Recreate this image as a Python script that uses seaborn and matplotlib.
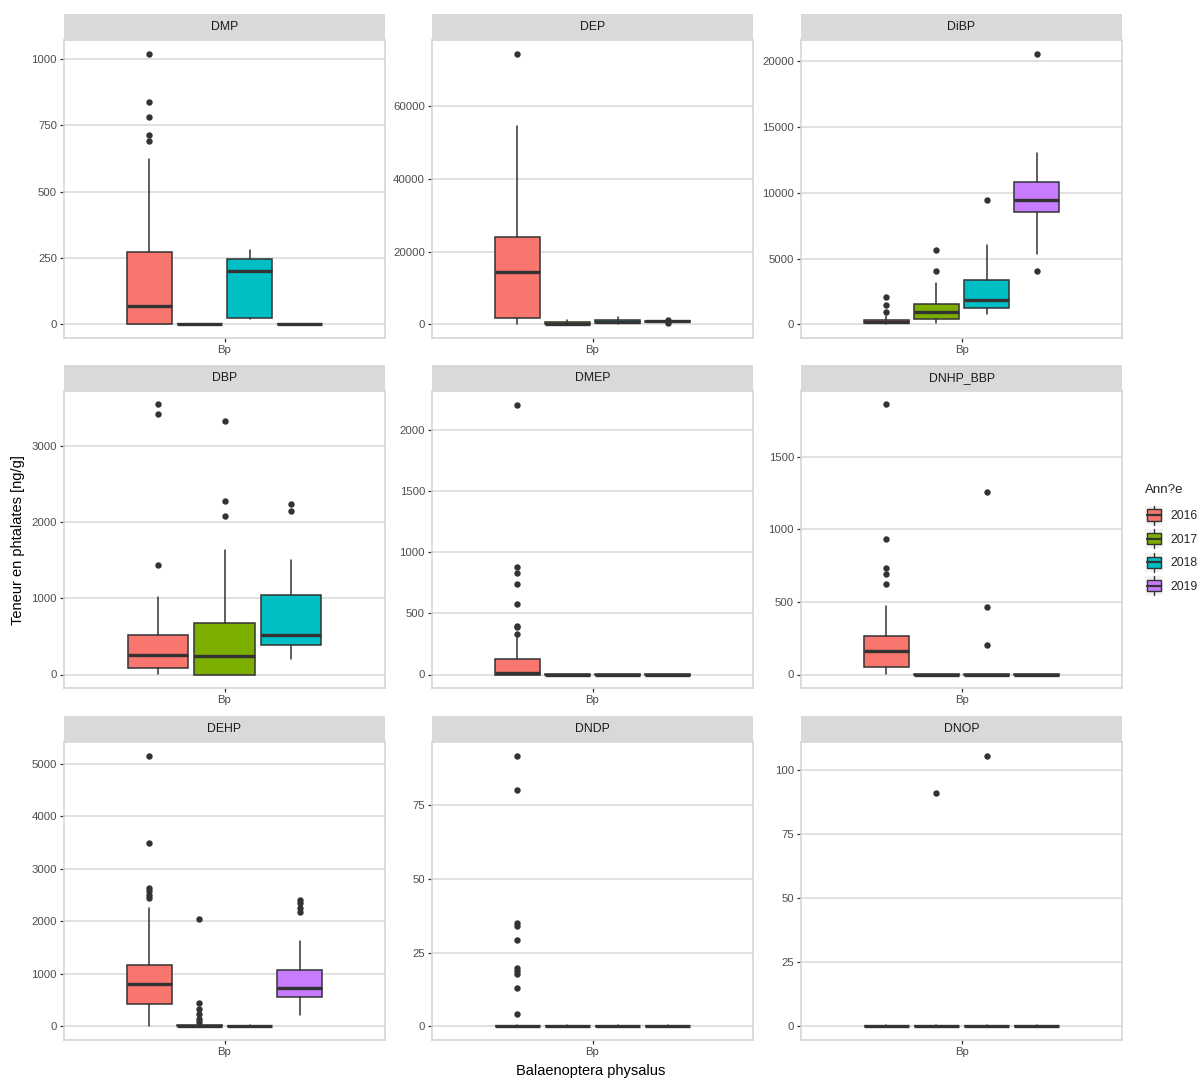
import numpy as np
import pandas as pd
import matplotlib
matplotlib.use("Agg")
import matplotlib.pyplot as plt
import seaborn as sns
from matplotlib.patches import Rectangle
from matplotlib.lines import Line2D
from matplotlib.legend_handler import HandlerBase

# ---------------- data ----------------
compounds = ["DMP", "DEP", "DiBP", "DBP", "DMEP", "DNHP_BBP", "DEHP", "DNDP", "DNOP"]
years = ["2016", "2017", "2018", "2019"]
year_colors = ["#F8766D", "#7CAE00", "#00BFC4", "#C77CFF"]
category = "Bp"

# one row per compound, one entry per year (None = no data that year)
q1 = [
    [0, 0, 25, 0],
    [1800, 50, 300, 700],
    [75, 380, 1210, 8540],
    [82, 0, 382, None],
    [0, 0, 0, 0],
    [55, 0, 0, 0],
    [435, 0, 0, 562],
    [0, 0, 0, 0],
    [0, 0, 0, 0],
]
median = [
    [68, 0, 200, 0],
    [14500, 250, 800, 850],
    [200, 960, 1890, 9400],
    [252, 239, 517, None],
    [14, 0, 0, 0],
    [160, 0, 0, 0],
    [801, 5, 0, 732],
    [0, 0, 0, 0],
    [0, 0, 0, 0],
]
q3 = [
    [273, 2, 247, 2],
    [24000, 600, 1300, 1000],
    [330, 1540, 3350, 10790],
    [521, 677, 1046, None],
    [130, 3, 3, 3],
    [267, 3, 3, 3],
    [1167, 25, 15, 1073],
    [0.3, 0.3, 0.3, 0.3],
    [0.3, 0.3, 0.3, 0.3],
]
whisker_lo = [
    [0, 0, 19, 0],
    [0, 0, 100, 600],
    [0, 75, 780, 5370],
    [9, 0, 208, None],
    [0, 0, 0, 0],
    [5, 0, 0, 0],
    [13, 0, 0, 221],
    [0, 0, 0, 0],
    [0, 0, 0, 0],
]
whisker_hi = [
    [622, 3, 280, 3],
    [54400, 1200, 2000, 1150],
    [630, 3180, 6000, 12980],
    [1020, 1637, 1498, None],
    [310, 5, 5, 5],
    [472, 4, 4, 4],
    [2253, 40, 20, 1622],
    [0.5, 0.5, 0.5, 0.5],
    [0.5, 0.5, 0.5, 0.5],
]
outliers_DMP = [[1019, 836, 781, 712, 690], [], [], []]
outliers_DEP = [[74400], [], [], [1350, 450]]
outliers_DiBP = [[2090, 1490, 960], [5670, 4030], [9400], [20540, 4030]]
outliers_DBP = [[3539, 3417, 1429], [3322, 2271, 2080], [2236, 2149], []]
outliers_DMEP = [[2205, 874, 825, 739, 574, 400, 384, 333], [], [], []]
outliers_DNHP_BBP = [[1858, 935, 730, 689, 622], [], [1259, 465, 205], []]
outliers_DEHP = [[5155, 3483, 2631, 2568, 2505, 2442], [2051, 448, 341, 233, 139, 76], [], [2404, 2341, 2253, 2170]]
outliers_DNDP = [[91.9, 80.3, 35.0, 34.0, 29.3, 19.7, 18.8, 17.7, 13.0, 4.3], [], [], []]
outliers_DNOP = [[], [90.8], [105.5], []]
outliers = [outliers_DMP, outliers_DEP, outliers_DiBP, outliers_DBP, outliers_DMEP,
            outliers_DNHP_BBP, outliers_DEHP, outliers_DNDP, outliers_DNOP]

y_ticks = [
    [0, 250, 500, 750, 1000],
    [0, 20000, 40000, 60000],
    [0, 5000, 10000, 15000, 20000],
    [0, 1000, 2000, 3000],
    [0, 500, 1000, 1500, 2000],
    [0, 500, 1000, 1500],
    [0, 1000, 2000, 3000, 4000, 5000],
    [0, 25, 50, 75],
    [0, 25, 50, 75, 100],
]

legend_title = "Ann?e"
y_title = "Teneur en phtalates [ng/g]"
x_title = "Balaenoptera physalus"

# ---------------- build table ----------------
rows = []
for ci, comp in enumerate(compounds):
    for yi, yr in enumerate(years):
        if q1[ci][yi] is None:
            continue
        rows.append(dict(compound=comp, year=yr, q1=q1[ci][yi], med=median[ci][yi],
                         q3=q3[ci][yi], lo=whisker_lo[ci][yi], hi=whisker_hi[ci][yi],
                         fliers=outliers[ci][yi]))
df = pd.DataFrame(rows)
color_map = dict(zip(years, year_colors))

# ---------------- style ----------------
sns.set_theme(style="white")
plt.rcParams["font.family"] = ["Liberation Sans", "DejaVu Sans"]

EDGE = "#333333"
GRID = "#DEDEDE"
BORDER = "#D6D6D6"
TICKC = "#4D4D4D"


def draw_boxes(data, **kw):
    ax = plt.gca()
    n = len(data)
    slot = 0.75 / n
    stats, positions, cols = [], [], []
    ymin, ymax = np.inf, -np.inf
    for i, (_, r) in enumerate(data.iterrows()):
        fl = np.array(r.fliers, dtype=float)
        stats.append(dict(q1=r.q1, med=r.med, q3=r.q3, whislo=r.lo, whishi=r.hi, fliers=fl))
        positions.append(-0.375 + slot * (i + 0.5))
        cols.append(color_map[r.year])
        vals = [r.lo, r.hi] + list(fl)
        ymin, ymax = min(ymin, min(vals)), max(ymax, max(vals))
    bp = ax.bxp(stats, positions=positions, widths=0.9 * slot, patch_artist=True,
                showcaps=False, manage_ticks=False,
                boxprops=dict(edgecolor=EDGE, linewidth=1.1),
                medianprops=dict(color=EDGE, linewidth=2.4, solid_capstyle="butt"),
                whiskerprops=dict(color=EDGE, linewidth=1.1),
                flierprops=dict(marker="o", markerfacecolor=EDGE, markeredgecolor=EDGE,
                                markersize=3.6, linestyle="none"))
    for patch, c in zip(bp["boxes"], cols):
        patch.set_facecolor(c)
    pad = 0.05 * (ymax - ymin)
    ax.set_ylim(ymin - pad, ymax + pad)


g = sns.FacetGrid(df, col="compound", col_order=compounds, col_wrap=3,
                  sharex=False, sharey=False, height=3, aspect=1)
g.map_dataframe(draw_boxes)

fig = g.figure
fig.set_size_inches(12.04, 10.8)
fig.set_dpi(100)
fig.patch.set_facecolor("white")

W, H = 1204.0, 1080.0
col_left = [64, 432, 801]
row_span = [(40, 338), (391, 688), (742, 1040)]
pw = 321
strip_h = 26

for ci, comp in enumerate(compounds):
    ax = g.axes_dict[comp]
    r, c = divmod(ci, 3)
    y1, y2 = row_span[r]
    ax.set_position([col_left[c] / W, 1 - y2 / H, pw / W, (y2 - y1) / H])
    ax.set_title("")
    ax.set_xlabel("")
    ax.set_ylabel("")
    ax.set_xlim(-0.6, 0.6)
    ax.set_xticks([0])
    ax.set_xticklabels([category])
    ax.set_yticks(y_ticks[ci])
    ax.set_yticklabels([str(t) for t in y_ticks[ci]])
    ax.set_facecolor("white")
    ax.set_axisbelow(True)
    ax.yaxis.grid(True, color=GRID, linewidth=1.3)
    ax.xaxis.grid(False)
    for s in ax.spines.values():
        s.set_visible(True)
        s.set_color(BORDER)
        s.set_linewidth(1.2)
    ax.tick_params(axis="both", which="major", length=3, width=0.9, color="#333333",
                   labelsize=8.2, labelcolor=TICKC, pad=2, left=True, bottom=True)
    hh = strip_h / (y2 - y1)
    ax.add_patch(Rectangle((0, 1), 1, hh, transform=ax.transAxes, clip_on=False,
                           facecolor="#D9D9D9", edgecolor="none", zorder=5))
    ax.text(0.5, 1 + hh / 2, comp, transform=ax.transAxes, ha="center", va="center",
            fontsize=8.8, color="#1A1A1A", zorder=6)

fig.text(18 / W, 0.5, y_title, rotation=90, ha="center", va="center", fontsize=10.5, color="black")
fig.text(591 / W, 1 - 1071 / H, x_title, ha="center", va="center", fontsize=10.5, color="black")


class BoxKeyHandler(HandlerBase):
    def create_artists(self, legend, orig_handle, xdescent, ydescent, width, height, fontsize, trans):
        x0, y0 = -xdescent, -ydescent
        bg = Rectangle((x0, y0), width, height, facecolor="#F2F2F2", edgecolor="none", transform=trans)
        cx = x0 + width / 2
        wl = Line2D([cx, cx], [y0, y0 + height], color=EDGE, linewidth=1.0, transform=trans)
        bx = Rectangle((x0 + 1.5, y0 + height * 0.2), width - 3, height * 0.6,
                       facecolor=orig_handle.get_facecolor(),
                       edgecolor=EDGE, linewidth=1.0, transform=trans)
        md = Line2D([x0 + 1.5, x0 + width - 1.5], [y0 + height / 2, y0 + height / 2], color=EDGE,
                    linewidth=1.6, transform=trans)
        return [bg, wl, bx, md]


handles = [Rectangle((0, 0), 1, 1, facecolor=c) for c in year_colors]
leg = fig.legend(handles, years, title=legend_title, loc="upper left",
                 bbox_to_anchor=(1145 / W, 1 - 484 / H), frameon=False,
                 handler_map={Rectangle: BoxKeyHandler()}, fontsize=8.8, title_fontsize=9.5,
                 handlelength=1.5, handleheight=2.0, labelspacing=0.38, handletextpad=0.6,
                 borderaxespad=0, borderpad=0)
leg._legend_box.align = "left"
leg._legend_box.sep = 7

fig.savefig("out.png", dpi=100, facecolor="white")
